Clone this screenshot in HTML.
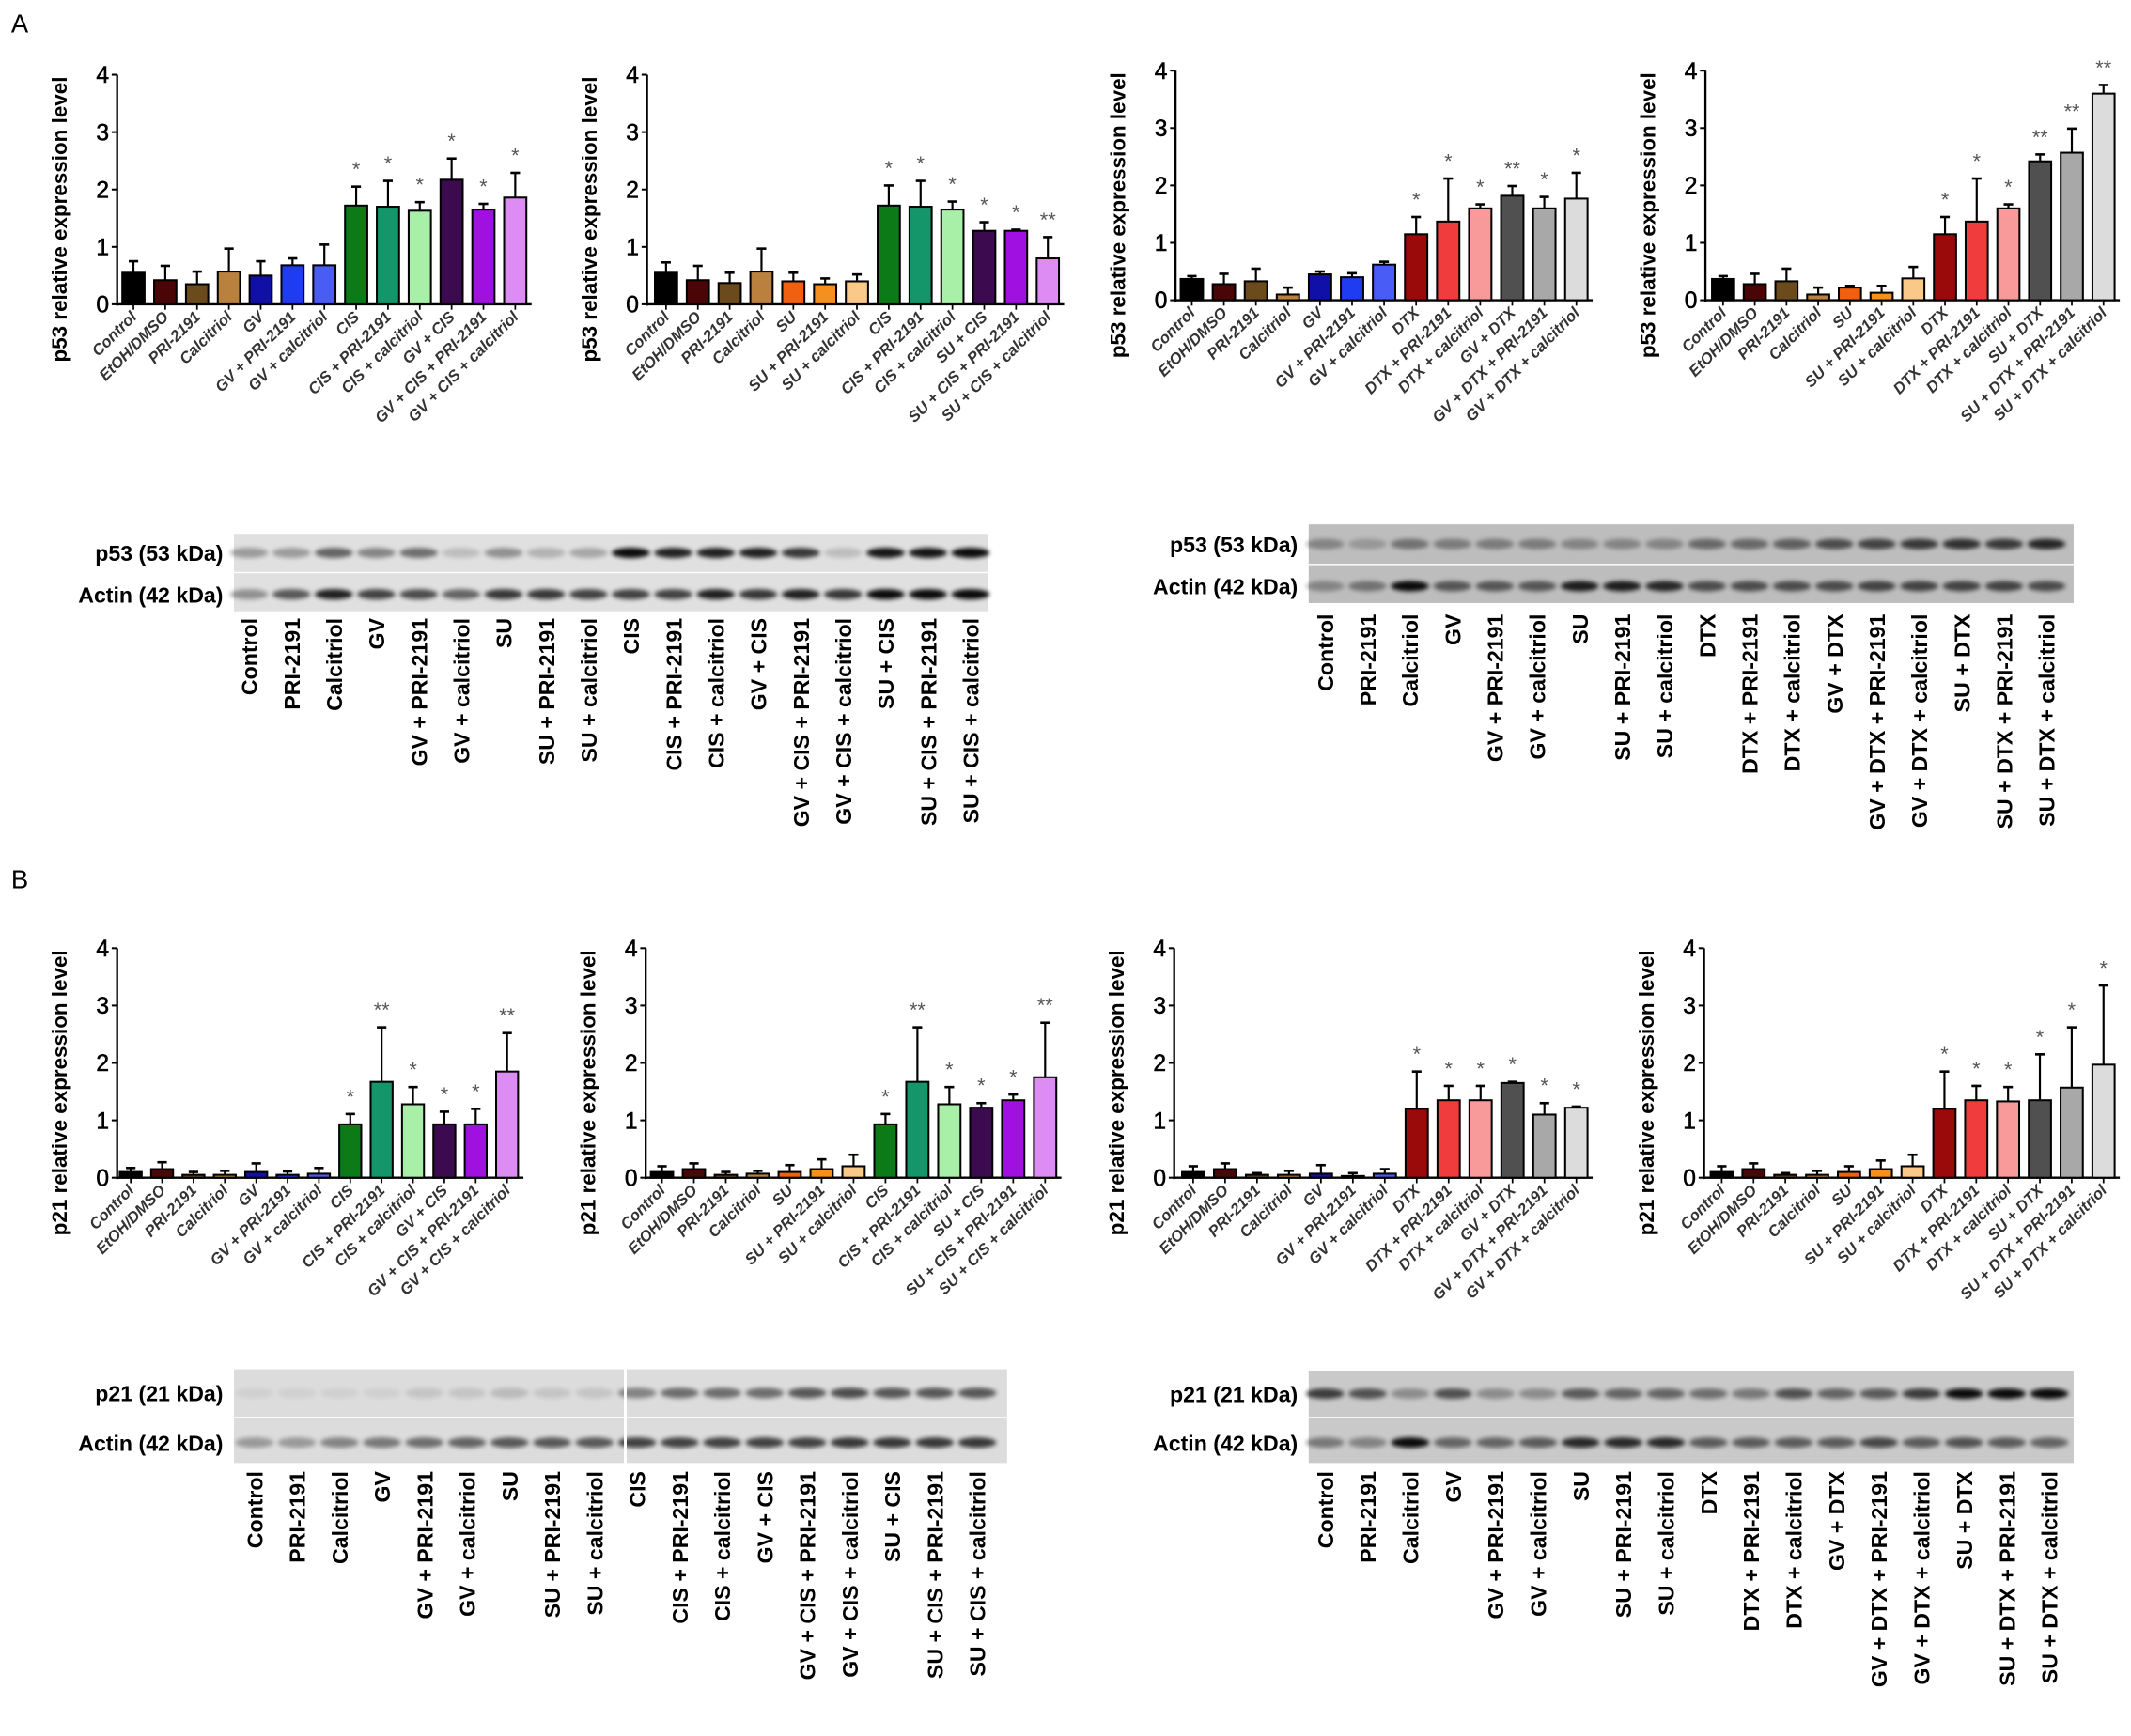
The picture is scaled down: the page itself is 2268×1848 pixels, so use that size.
<!DOCTYPE html>
<html><head><meta charset="utf-8"><style>
html,body{margin:0;padding:0;background:#fff}
svg{display:block}
text{font-family:"Liberation Sans",Arial,sans-serif}
</style></head><body>
<svg id="fig" width="2268" height="1848" viewBox="0 0 1568 1278" xmlns="http://www.w3.org/2000/svg">
<defs><filter id="blur" x="-20%" y="-50%" width="140%" height="200%"><feGaussianBlur stdDeviation="1.6"/></filter></defs>
<text x="8" y="24" font-size="19">A</text>
<text x="8" y="654" font-size="19">B</text>
</svg>
<script>
const NS="http://www.w3.org/2000/svg";
const svg=document.getElementById('fig');
function mk(tag,attrs,parent,txt){const e=document.createElementNS(NS,tag);for(const k in attrs)e.setAttribute(k,attrs[k]);if(txt!==undefined)e.textContent=txt;(parent||svg).appendChild(e);return e;}

// ---- chart data ----
const catsA1=["Control","EtOH/DMSO","PRI-2191","Calcitriol","GV","GV + PRI-2191","GV + calcitriol","CIS","CIS + PRI-2191","CIS + calcitriol","GV + CIS","GV + CIS + PRI-2191","GV + CIS + calcitriol"];
const catsA2=["Control","EtOH/DMSO","PRI-2191","Calcitriol","SU","SU + PRI-2191","SU + calcitriol","CIS","CIS + PRI-2191","CIS + calcitriol","SU + CIS","SU + CIS + PRI-2191","SU + CIS + calcitriol"];
const catsA3=["Control","EtOH/DMSO","PRI-2191","Calcitriol","GV","GV + PRI-2191","GV + calcitriol","DTX","DTX + PRI-2191","DTX + calcitriol","GV + DTX","GV + DTX + PRI-2191","GV + DTX + calcitriol"];
const catsA4=["Control","EtOH/DMSO","PRI-2191","Calcitriol","SU","SU + PRI-2191","SU + calcitriol","DTX","DTX + PRI-2191","DTX + calcitriol","SU + DTX","SU + DTX + PRI-2191","SU + DTX + calcitriol"];
const colsGV=["#000000","#4a0606","#6b4a1c","#b9803e","#1010a8","#1f3cf0","#4a5cf6","#0b7a17","#14966a","#a8f0a8","#3c0a4e","#a010e0","#dd8cf4"];
const colsSU=["#000000","#4a0606","#6b4a1c","#b9803e","#f06010","#f5901c","#fac888","#0b7a17","#14966a","#a8f0a8","#3c0a4e","#a010e0","#dd8cf4"];
const colsDTX1=["#000000","#4a0606","#6b4a1c","#b9803e","#1010a8","#1f3cf0","#4a5cf6","#9a0a0a","#f03c3c","#f89a9a","#505050","#a8a8a8","#dcdcdc"];
const colsDTX2=["#000000","#4a0606","#6b4a1c","#b9803e","#f06010","#f5901c","#fac888","#9a0a0a","#f03c3c","#f89a9a","#505050","#a8a8a8","#dcdcdc"];
const valsA1=[0.55,0.42,0.35,0.57,0.5,0.68,0.68,1.72,1.7,1.63,2.17,1.65,1.86];
const errA1=[0.2,0.25,0.22,0.4,0.25,0.12,0.36,0.33,0.45,0.15,0.37,0.1,0.43];
const starA1=["","","","","","","","*","*","*","*","*","*"];
const valsA2=[0.55,0.42,0.37,0.57,0.4,0.35,0.4,1.72,1.7,1.65,1.28,1.28,0.8];
const errA2=[0.18,0.25,0.18,0.4,0.15,0.1,0.12,0.35,0.45,0.14,0.15,0.02,0.37];
const starA2=["","","","","","","","*","*","*","*","*","**"];
const valsA3=[0.37,0.28,0.33,0.1,0.45,0.4,0.62,1.15,1.37,1.6,1.82,1.6,1.77];
const errA3=[0.05,0.18,0.22,0.12,0.05,0.07,0.05,0.3,0.75,0.07,0.17,0.2,0.45];
const starA3=["","","","","","","","*","*","*","**","*","*"];
const valsA4=[0.37,0.28,0.33,0.1,0.22,0.13,0.38,1.15,1.37,1.6,2.42,2.57,3.6];
const errA4=[0.05,0.18,0.22,0.12,0.03,0.12,0.2,0.3,0.75,0.07,0.12,0.42,0.15];
const starA4=["","","","","","","","*","*","*","**","**","**"];
const valsB1=[0.1,0.15,0.05,0.05,0.1,0.05,0.07,0.93,1.67,1.28,0.93,0.93,1.85];
const errB1=[0.07,0.12,0.05,0.07,0.15,0.06,0.1,0.18,0.95,0.3,0.22,0.27,0.67];
const starB1=["","","","","","","","*","**","*","*","*","**"];
const valsB2=[0.1,0.15,0.05,0.07,0.1,0.15,0.2,0.93,1.67,1.28,1.22,1.35,1.75];
const errB2=[0.1,0.1,0.05,0.05,0.12,0.17,0.2,0.18,0.95,0.3,0.08,0.1,0.95];
const starB2=["","","","","","","","*","**","*","*","*","**"];
const valsB3=[0.1,0.15,0.05,0.05,0.07,0.03,0.07,1.2,1.35,1.35,1.65,1.1,1.22];
const errB3=[0.1,0.1,0.03,0.07,0.15,0.05,0.08,0.65,0.25,0.25,0.02,0.2,0.02];
const starB3=["","","","","","","","*","*","*","*","*","*"];
const valsB4=[0.1,0.15,0.05,0.05,0.1,0.15,0.2,1.2,1.35,1.33,1.35,1.57,1.97];
const errB4=[0.1,0.1,0.03,0.07,0.1,0.15,0.2,0.65,0.25,0.25,0.8,1.05,1.38];
const starB4=["","","","","","","","*","*","*","*","*","*"];
const yTicks=[0,1,2,3,4];

function chart(name,ax,x0,x1,y0,y4,title,cats,vals,errs,stars,cols){
  const g=mk('g',{});
  
  
  const ys=v=>y0-(y0-y4)*v/4;
  const n=cats.length, step=(x1-x0)/(n-1);
  const xs=i=>x0+i*step;
  const ya=mk('line',{x1:ax,y1:y4,x2:ax,y2:y0+1,stroke:'#000','stroke-width':1.6},g);
  
  
  const xa=mk('line',{x1:ax,y1:y0,x2:x1+12,y2:y0,stroke:'#000','stroke-width':1.6},g);
  
  
  yTicks.forEach(t=>{
    mk('line',{x1:ax-4,y1:ys(t),x2:ax,y2:ys(t),stroke:'#000','stroke-width':1.4},g);
    const tl=mk('text',{x:ax-6,y:ys(t)+6,'font-size':17,'text-anchor':'end','stroke':'#000','stroke-width':0.4},g,String(t));
    
    
  });
  const tt=mk('text',{transform:`translate(${ax-37},${(y0+y4)/2+22}) rotate(-90)`,'font-size':15.5,'font-weight':'bold','text-anchor':'middle'},g,title);
  
  
  const bw=step*0.7;
  cats.forEach((c,i)=>{
    const x=xs(i), top=ys(vals[i]), et=ys(vals[i]+errs[i]);
    mk('line',{x1:x,y1:top,x2:x,y2:et,stroke:'#000','stroke-width':1.5},g);
    mk('line',{x1:x-3.5,y1:et,x2:x+3.5,y2:et,stroke:'#000','stroke-width':1.8},g);
    const b=mk('rect',{x:x-bw/2,y:top,width:bw,height:y0-top,fill:cols[i],stroke:'#000','stroke-width':1.4},g);
    
    
    mk('line',{x1:x,y1:y0,x2:x,y2:y0+4,stroke:'#000','stroke-width':1.2},g);
    if(stars[i]){const s=mk('text',{x:x,y:et-8,'font-size':15,'text-anchor':'middle',fill:'#555'},g,stars[i]);
      
      }
    const l=mk('text',{transform:`translate(${x+3},${y0+10}) rotate(-45)`,'font-size':11.5,'font-weight':'bold','font-style':'italic','text-anchor':'end',fill:'#333'},g,c);
    
    
  });
}
chart('chart-a1-p53-gv-cis',86,98,379,224,55,'p53 relative expression level',catsA1,valsA1,errA1,starA1,colsGV);
chart('chart-a2-p53-su-cis',476,490,771,224,55,'p53 relative expression level',catsA2,valsA2,errA2,starA2,colsSU);
chart('chart-a3-p53-gv-dtx',865,877,1160,221,52,'p53 relative expression level',catsA3,valsA3,errA3,starA3,colsDTX1);
chart('chart-a4-p53-su-dtx',1255,1268,1548,221,52,'p53 relative expression level',catsA4,valsA4,errA4,starA4,colsDTX2);
chart('chart-b1-p21-gv-cis',86,96,373,867,698,'p21 relative expression level',catsA1,valsB1,errB1,starB1,colsGV);
chart('chart-b2-p21-su-cis',475,487,769,867,698,'p21 relative expression level',catsA2,valsB2,errB2,starB2,colsSU);
chart('chart-b3-p21-gv-dtx',864,878,1160,867,698,'p21 relative expression level',catsA3,valsB3,errB3,starB3,colsDTX1);
chart('chart-b4-p21-su-dtx',1254,1267,1548,867,698,'p21 relative expression level',catsA4,valsB4,errB4,starB4,colsDTX2);

// ---- blots ----
const lanesCIS=["Control","PRI-2191","Calcitriol","GV","GV + PRI-2191","GV + calcitriol","SU","SU + PRI-2191","SU + calcitriol","CIS","CIS + PRI-2191","CIS + calcitriol","GV + CIS","GV + CIS + PRI-2191","GV + CIS + calcitriol","SU + CIS","SU + CIS + PRI-2191","SU + CIS + calcitriol"];
const lanesDTX=["Control","PRI-2191","Calcitriol","GV","GV + PRI-2191","GV + calcitriol","SU","SU + PRI-2191","SU + calcitriol","DTX","DTX + PRI-2191","DTX + calcitriol","GV + DTX","GV + DTX + PRI-2191","GV + DTX + calcitriol","SU + DTX","SU + DTX + PRI-2191","SU + DTX + calcitriol"];
const bandA1top=[0.3,0.3,0.55,0.4,0.5,0.15,0.35,0.2,0.25,0.95,0.85,0.85,0.85,0.75,0.15,0.9,0.9,0.95];
const bandA1bot=[0.35,0.6,0.85,0.7,0.65,0.55,0.75,0.75,0.7,0.7,0.7,0.85,0.75,0.85,0.75,0.95,0.95,0.95];
const bandA2top=[0.3,0.2,0.4,0.35,0.35,0.35,0.3,0.3,0.3,0.45,0.45,0.5,0.6,0.65,0.7,0.75,0.7,0.8];
const bandA2bot=[0.3,0.4,0.95,0.55,0.55,0.55,0.85,0.85,0.8,0.6,0.6,0.6,0.6,0.65,0.65,0.65,0.65,0.6];
const bandB1top=[0.05,0.05,0.05,0.05,0.1,0.1,0.15,0.1,0.1,0.4,0.5,0.5,0.5,0.6,0.65,0.6,0.6,0.6];
const bandB1bot=[0.3,0.3,0.4,0.45,0.5,0.55,0.6,0.6,0.6,0.7,0.7,0.7,0.7,0.7,0.75,0.75,0.75,0.75];
const bandB2top=[0.7,0.6,0.3,0.6,0.3,0.3,0.55,0.5,0.5,0.45,0.4,0.6,0.5,0.55,0.7,0.95,0.95,0.95];
const bandB2bot=[0.4,0.35,0.95,0.5,0.5,0.55,0.8,0.8,0.8,0.55,0.55,0.55,0.55,0.65,0.55,0.6,0.55,0.5];

function blot(name,bx0,bx1,yTop,yMid,yBot,lab1,lab2,lanes,top,bot,c0,c1,lblTop,bg){
  const g=mk('g',{});
  
  
  const r1=mk('rect',{x:bx0,y:yTop,width:bx1-bx0,height:yMid-yTop,fill:bg},g);
  
  
  const r2=mk('rect',{x:bx0,y:yMid+1,width:bx1-bx0,height:yBot-yMid-1,fill:bg},g);
  
  
  const step=(c1-c0)/(lanes.length-1);
  lanes.forEach((ln,i)=>{
    const x=c0+i*step;
    const t=mk('ellipse',{cx:x,cy:(yTop+yMid)/2,rx:step*0.45,ry:3.8,fill:'#000',opacity:top[i],filter:'url(#blur)'},g);
    
    
    const b=mk('ellipse',{cx:x,cy:(yMid+yBot)/2+2,rx:step*0.45,ry:3.8,fill:'#000',opacity:bot[i],filter:'url(#blur)'},g);
    
    
    const l=mk('text',{transform:`translate(${x+6},${lblTop}) rotate(-90)`,'font-size':16,'font-weight':'bold','text-anchor':'end'},g,ln);
    
    
  });
  const a=mk('text',{x:bx0-8,y:(yTop+yMid)/2+6,'font-size':16,'font-weight':'bold','text-anchor':'end'},g,lab1);
  
  
  const b=mk('text',{x:bx0-8,y:(yMid+yBot)/2+8,'font-size':16,'font-weight':'bold','text-anchor':'end'},g,lab2);
  
  
}
blot('blot-a-cis',172,727,393,421,450,'p53 (53 kDa)','Actin (42 kDa)',lanesCIS,bandA1top,bandA1bot,183,714,455,'#e0e0e0');
blot('blot-a-dtx',963,1526,386,415,444,'p53 (53 kDa)','Actin (42 kDa)',lanesDTX,bandA2top,bandA2bot,975,1506,452,'#bdbdbd');
blot('blot-b-cis',172,741,1008,1043,1077,'p21 (21 kDa)','Actin (42 kDa)',lanesCIS,bandB1top,bandB1bot,187,719,1083,'#dcdcdc');
blot('blot-b-dtx',963,1526,1009,1043,1077,'p21 (21 kDa)','Actin (42 kDa)',lanesDTX,bandB2top,bandB2bot,975,1508,1083,'#c9c9c9');
mk('line',{x1:460,y1:1008,x2:460,y2:1077,stroke:'#fff','stroke-width':2});
</script>
</body></html>
